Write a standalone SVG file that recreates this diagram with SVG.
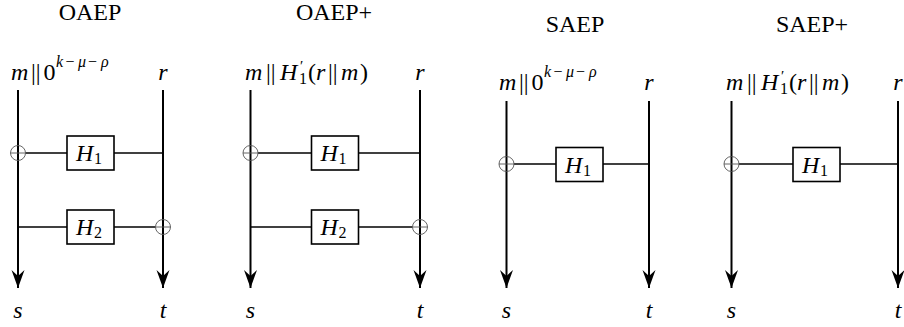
<svg xmlns="http://www.w3.org/2000/svg" width="904" height="327" viewBox="0 0 904 327">
<defs>
<marker id="arr" markerUnits="userSpaceOnUse" viewBox="-19 -8 20 16" refX="0" refY="0" markerWidth="20" markerHeight="16" orient="auto">
<path d="M0,0 L-18,-6.5 L-12,0 L-18,6.5 Z" fill="#000"/>
</marker>
</defs>
<style>
text{font-family:"Liberation Serif","DejaVu Serif",serif;font-size:24px;fill:#000}
.ttl{font-size:24px;text-anchor:middle}
.t{text-anchor:middle}
.i{font-style:italic}
.sup{font-size:16px;font-style:italic}
.sm{font-size:16px;font-style:normal}
.pr{font-size:15px;font-style:normal}
.v{stroke:#000;stroke-width:2;fill:none}
.h{stroke:#000;stroke-width:1.6;fill:none}
.box{fill:#fff;stroke:#000;stroke-width:1.6}
.xc{fill:none;stroke:#555;stroke-width:0.9}
</style>
<g id="titles">
<text class="ttl" x="90" y="20">OAEP</text>
<text class="ttl" x="334" y="20">OAEP+</text>
<text class="ttl" x="575" y="32">SAEP</text>
<text class="ttl" x="812" y="32">SAEP+</text>
</g>
<g id="connectors">
<line class="v" x1="18" y1="90" x2="18" y2="288" marker-end="url(#arr)"/>
<line class="v" x1="163" y1="90" x2="163" y2="288" marker-end="url(#arr)"/>
<line class="h" x1="25.5" y1="153" x2="67" y2="153"/>
<line class="h" x1="114" y1="153" x2="163" y2="153"/>
<line class="h" x1="18" y1="227" x2="67" y2="227"/>
<line class="h" x1="114" y1="227" x2="155.5" y2="227"/>
<line class="v" x1="250.5" y1="90" x2="250.5" y2="288" marker-end="url(#arr)"/>
<line class="v" x1="420" y1="90" x2="420" y2="288" marker-end="url(#arr)"/>
<line class="h" x1="258" y1="153" x2="311.5" y2="153"/>
<line class="h" x1="358.5" y1="153" x2="420" y2="153"/>
<line class="h" x1="250.5" y1="227" x2="311.5" y2="227"/>
<line class="h" x1="358.5" y1="227" x2="412.5" y2="227"/>
<line class="v" x1="506.5" y1="101" x2="506.5" y2="288" marker-end="url(#arr)"/>
<line class="v" x1="649" y1="101" x2="649" y2="288" marker-end="url(#arr)"/>
<line class="h" x1="514" y1="164" x2="556" y2="164"/>
<line class="h" x1="603" y1="164" x2="649" y2="164"/>
<line class="v" x1="731.5" y1="101" x2="731.5" y2="288" marker-end="url(#arr)"/>
<line class="v" x1="898" y1="101" x2="898" y2="288" marker-end="url(#arr)"/>
<line class="h" x1="739" y1="164" x2="793" y2="164"/>
<line class="h" x1="840" y1="164" x2="898" y2="164"/>
</g>

<g id="oaep-in-left"><text y="80"><tspan class="i" x="11">m</tspan><tspan x="31">||</tspan><tspan x="43.5">0</tspan><tspan class="sup" x="56" y="67">k</tspan><tspan class="sm" x="65.5" y="67">−</tspan><tspan class="sup" x="78" y="67">μ</tspan><tspan class="sm" x="88" y="67">−</tspan><tspan class="sup" x="101" y="67">ρ</tspan></text></g>
<g id="oaep-in-right"><text class="t i" x="163" y="80">r</text></g>
<g id="oaep-xor1"><circle class="xc" cx="18" cy="153" r="7.5"/><line class="xc" x1="10.5" y1="153" x2="25.5" y2="153"/></g>
<g id="oaep-h1"><rect class="box" x="67" y="136" width="47" height="34"/><text y="161"><tspan class="i" x="76">H</tspan><tspan class="sm" x="94" y="164">1</tspan></text></g>
<g id="oaep-h2"><rect class="box" x="67" y="210" width="47" height="34"/><text y="235"><tspan class="i" x="76">H</tspan><tspan class="sm" x="94" y="238">2</tspan></text></g>
<g id="oaep-xor2"><circle class="xc" cx="163" cy="227" r="7.5"/><line class="xc" x1="155.5" y1="227" x2="170.5" y2="227"/></g>
<g id="oaep-out-s"><text class="t i" x="18" y="318">s</text></g>
<g id="oaep-out-t"><text class="t i" x="163" y="318">t</text></g>

<g id="oaepp-in-left"><text y="80"><tspan class="i" x="245">m</tspan><tspan x="266">||</tspan><tspan class="i" x="280">H</tspan><tspan class="pr" x="300" y="71">′</tspan><tspan class="sm" x="299" y="84">1</tspan><tspan x="308" y="80">(</tspan><tspan class="i" x="316">r</tspan><tspan x="328">||</tspan><tspan class="i" x="341">m</tspan><tspan x="360">)</tspan></text></g>
<g id="oaepp-in-right"><text class="t i" x="420" y="80">r</text></g>
<g id="oaepp-xor1"><circle class="xc" cx="250.5" cy="153" r="7.5"/><line class="xc" x1="243" y1="153" x2="258" y2="153"/></g>
<g id="oaepp-h1"><rect class="box" x="311.5" y="136" width="47" height="34"/><text y="161"><tspan class="i" x="320.5">H</tspan><tspan class="sm" x="338.5" y="164">1</tspan></text></g>
<g id="oaepp-h2"><rect class="box" x="311.5" y="210" width="47" height="34"/><text y="235"><tspan class="i" x="320.5">H</tspan><tspan class="sm" x="338.5" y="238">2</tspan></text></g>
<g id="oaepp-xor2"><circle class="xc" cx="420" cy="227" r="7.5"/><line class="xc" x1="412.5" y1="227" x2="427.5" y2="227"/></g>
<g id="oaepp-out-s"><text class="t i" x="250.5" y="318">s</text></g>
<g id="oaepp-out-t"><text class="t i" x="420" y="318">t</text></g>

<g id="saep-in-left"><text y="90"><tspan class="i" x="499">m</tspan><tspan x="519">||</tspan><tspan x="531.5">0</tspan><tspan class="sup" x="544" y="77">k</tspan><tspan class="sm" x="553.5" y="77">−</tspan><tspan class="sup" x="566" y="77">μ</tspan><tspan class="sm" x="576" y="77">−</tspan><tspan class="sup" x="589" y="77">ρ</tspan></text></g>
<g id="saep-in-right"><text class="t i" x="649" y="90">r</text></g>
<g id="saep-xor"><circle class="xc" cx="506.5" cy="164" r="7.5"/><line class="xc" x1="499" y1="164" x2="514" y2="164"/></g>
<g id="saep-h1"><rect class="box" x="556" y="147.5" width="47" height="34"/><text y="172.5"><tspan class="i" x="565">H</tspan><tspan class="sm" x="583" y="175.5">1</tspan></text></g>
<g id="saep-out-s"><text class="t i" x="506.5" y="318">s</text></g>
<g id="saep-out-t"><text class="t i" x="649" y="318">t</text></g>

<g id="saepp-in-left"><text y="90"><tspan class="i" x="726">m</tspan><tspan x="747">||</tspan><tspan class="i" x="761">H</tspan><tspan class="pr" x="781" y="81">′</tspan><tspan class="sm" x="780" y="94">1</tspan><tspan x="789" y="90">(</tspan><tspan class="i" x="797">r</tspan><tspan x="809">||</tspan><tspan class="i" x="822">m</tspan><tspan x="841">)</tspan></text></g>
<g id="saepp-in-right"><text class="t i" x="898" y="90">r</text></g>
<g id="saepp-xor"><circle class="xc" cx="731.5" cy="164" r="7.5"/><line class="xc" x1="724" y1="164" x2="739" y2="164"/></g>
<g id="saepp-h1"><rect class="box" x="793" y="147.5" width="47" height="34"/><text y="172.5"><tspan class="i" x="802">H</tspan><tspan class="sm" x="820" y="175.5">1</tspan></text></g>
<g id="saepp-out-s"><text class="t i" x="731.5" y="318">s</text></g>
<g id="saepp-out-t"><text class="t i" x="898" y="318">t</text></g>
</svg>
